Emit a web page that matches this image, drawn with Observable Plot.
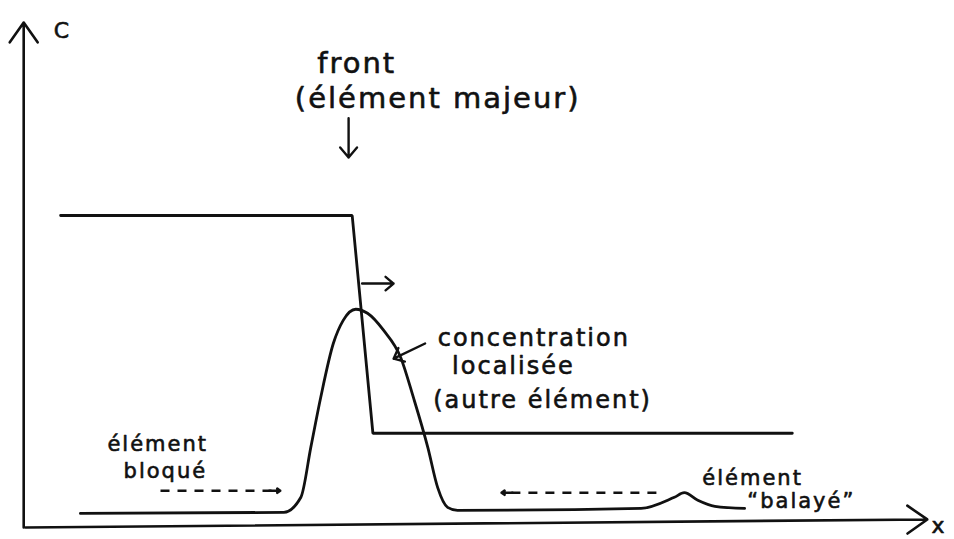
<!DOCTYPE html>
<html><head><meta charset="utf-8">
<script src="https://cdn.jsdelivr.net/npm/d3@7"></script>
<script src="https://cdn.jsdelivr.net/npm/@observablehq/plot@0.6"></script>
<style>body{margin:0;background:#fff} svg{display:block}</style>
</head><body><div id="chart"></div>
<script>
// Front of the major element (step profile)
const frontX = [3.9, 36.3, 38.6, 85.2];
const frontC = [61.9, 61.9, 18.7, 18.7];
// Localised concentration of the other element (peak) + swept element bump
const peakX = [6.1, 28.7, 30.6, 31.7, 32.8, 34.2, 35.3, 36.7, 38.0, 39.8, 41.7, 43.1, 44.7, 45.8, 46.9, 48.0, 68.4, 72.1, 73.2, 74.7, 76.6, 79.9];
const peakC = [2.8, 3.0, 6.0, 15.9, 25.8, 36.5, 41.1, 43.3, 42.5, 39.1, 33.7, 25.8, 15.9, 7.9, 4.0, 3.4, 3.8, 6.0, 6.9, 5.4, 4.2, 3.8];
// Axes (drawn as arrows)
const axisX1 = [-0.2, 0];
const axisY1 = [0, 0];
const axisX2 = [-0.2, 100.2];
const axisY2 = [100.2, 1.6];
const axisNames = ["C", "x"];
const axisNameX = [4.1, 101.5];
const axisNameY = [98.6, 0.3];
// Annotations
const bigLabels = ["front", "(élément majeur)"];
const bigLabelX = [36.8, 45.8];
const bigLabelY = [92.1, 85.1];
const midLabels = ["concentration", "localisée", "(autre élément)"];
const midLabelX = [45.8, 47.4, 45.3];
const midLabelY = [37.5, 31.9, 25.2];
const smallLabels = ["élément", "bloqué", "élément", "“balayé”"];
const smallLabelX = [9.1, 10.9, 75.2, 80.2];
const smallLabelY = [16.5, 11.1, 9.7, 5.2];
// Solid pointer arrows: down to front, front motion, label to peak
const ptrX1 = [35.9, 37.4, 44.4];
const ptrY1 = [81.2, 48.4, 36.5];
const ptrX2 = [35.9, 40.9, 40.9];
const ptrY2 = [73.4, 48.4, 33.5];
// Dashed arrows: blocked element (→) and swept element (←)
const dashX1 = [15.0, 70.1];
const dashX2 = [28.3, 52.9];
const dashY = [7.3, 6.9];

const zip = (obj) => { const k = Object.keys(obj); return obj[k[0]].map((_, i) => Object.fromEntries(k.map(n => [n, obj[n][i]]))); };

const front = zip({x: frontX, c: frontC});
const peak = zip({x: peakX, c: peakC});
const axes = zip({x1: axisX1, y1: axisY1, x2: axisX2, y2: axisY2});
const axisLab = zip({t: axisNames, x: axisNameX, y: axisNameY});
const big = zip({t: bigLabels, x: bigLabelX, y: bigLabelY});
const mid = zip({t: midLabels, x: midLabelX, y: midLabelY});
const small = zip({t: smallLabels, x: smallLabelX, y: smallLabelY});
const ptr = zip({x1: ptrX1, y1: ptrY1, x2: ptrX2, y2: ptrY2});
const dash = zip({x1: dashX1, x2: dashX2, y: dashY});
const dashHead = dash.map(d => ({x1: d.x2 - Math.sign(d.x2 - d.x1) * 1.2, x2: d.x2, y: d.y}));

const font = "DejaVu Sans";
const ink = "#111";
const txt = {fill: ink, stroke: ink, strokeWidth: 0.6, fontFamily: font, lineAnchor: "middle"};
const chart = Plot.plot({
  width: 954, height: 539,
  marginLeft: 25, marginRight: 29, marginTop: 23, marginBottom: 12,
  x: {domain: [0, 100], axis: null},
  y: {domain: [0, 100], axis: null},
  style: {background: "#fff", color: ink, letterSpacing: "2px", fontFamily: font},
  marks: [
    Plot.arrow(axes, {x1: "x1", y1: "y1", x2: "x2", y2: "y2", stroke: ink, strokeWidth: 2.6, headLength: 14, headAngle: 70}),
    Plot.line(front, {x: "x", y: "c", stroke: ink, strokeWidth: 2.8, strokeLinejoin: "miter"}),
    Plot.line(peak, {x: "x", y: "c", stroke: ink, strokeWidth: 2.8, curve: "monotone-x"}),
    Plot.arrow(ptr, {x1: "x1", y1: "y1", x2: "x2", y2: "y2", stroke: ink, strokeWidth: 2.4, headLength: 12, headAngle: 80}),
    Plot.link(dash, {x1: "x1", x2: "x2", y1: "y", y2: "y", stroke: ink, strokeWidth: 2.4, strokeDasharray: "9,8"}),
    Plot.arrow(dashHead, {x1: "x1", x2: "x2", y1: "y", y2: "y", stroke: ink, strokeWidth: 2.6, headLength: 11, headAngle: 70}),
    Plot.text(axisLab, {x: "x", y: "y", text: "t", fontSize: 22, ...txt}),
    Plot.text(big, {x: "x", y: "y", text: "t", fontSize: 29, ...txt}),
    Plot.text(mid, {x: "x", y: "y", text: "t", fontSize: 24, textAnchor: "start", ...txt}),
    Plot.text(small, {x: "x", y: "y", text: "t", fontSize: 21, textAnchor: "start", ...txt})
  ]
});
document.getElementById("chart").append(chart);
</script>
</body></html>
